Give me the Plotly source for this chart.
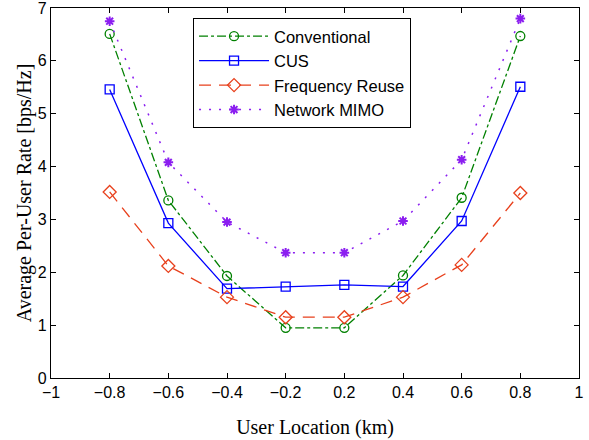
import plotly.graph_objects as go

tick_labels = ["\u22121", "\u22120.8", "\u22120.6", "\u22120.4", "\u22120.2", "0.2", "0.4", "0.6", "0.8", "1"]
locations = ["\u22120.8", "\u22120.6", "\u22120.4", "\u22120.2", "0.2", "0.4", "0.6", "0.8"]
y_ticks = [0, 1, 2, 3, 4, 5, 6, 7]

conventional = [6.51, 3.36, 1.93, 0.95, 0.95, 1.94, 3.41, 6.47]
cus = [5.46, 2.93, 1.69, 1.73, 1.76, 1.73, 2.97, 5.51]
freq_reuse = [3.52, 2.12, 1.53, 1.15, 1.15, 1.53, 2.14, 3.5]
network_mimo = [6.75, 4.08, 2.95, 2.37, 2.37, 2.97, 4.13, 6.8]

# locations are placed on evenly spaced tick positions (0 omitted on the axis)
xpos = [tick_labels.index(l) for l in locations]

fig = go.Figure()
fig.add_trace(go.Scatter(x=xpos, y=conventional, name="Conventional", mode="lines+markers",
                         line=dict(color="#008000", width=1.3, dash="dashdot"),
                         marker=dict(symbol="circle-open", size=9, color="#008000", line=dict(width=1.3))))
fig.add_trace(go.Scatter(x=xpos, y=cus, name="CUS", mode="lines+markers",
                         line=dict(color="#0000FF", width=1.3),
                         marker=dict(symbol="square-open", size=9, color="#0000FF", line=dict(width=1.3))))
fig.add_trace(go.Scatter(x=xpos, y=freq_reuse, name="Frequency Reuse", mode="lines+markers",
                         line=dict(color="#E8401C", width=1.3, dash="12px,8px"),
                         marker=dict(symbol="diamond-open", size=10, color="#E8401C", line=dict(width=1.3))))
fig.add_trace(go.Scatter(x=xpos, y=network_mimo, name="Network MIMO", mode="lines+markers",
                         line=dict(color="#8B1EF0", width=1.5, dash="2px,8px"),
                         marker=dict(symbol="asterisk-open", size=8, color="#8B1EF0", line=dict(width=2, color="#8B1EF0"))))

axis_common = dict(showline=True, linecolor="black", linewidth=1.2, mirror="ticks", ticks="inside",
                   ticklen=5, tickcolor="black", showgrid=False, zeroline=False, automargin=False,
                   ticklabeloverflow="allow",
                   tickfont=dict(family="Liberation Sans, Arial", size=16, color="black"))

title_font = dict(family="Liberation Serif, Times New Roman", size=20, color="black")

fig.update_xaxes(range=[-0.0001, 9.0001], tickvals=list(range(len(tick_labels))), ticktext=tick_labels,
                 title=dict(text="User Location (km)", font=title_font, standoff=19),
                 **axis_common)
fig.update_yaxes(range=[-0.0001, 7.0001], tickvals=y_ticks,
                 title=dict(text="Average Per-User Rate [bps/Hz]", font=title_font, standoff=0),
                 **axis_common)

fig.update_layout(width=589, height=440, plot_bgcolor="white", paper_bgcolor="white",
                  margin=dict(l=51, r=10, t=8, b=62),
                  legend=dict(x=0.269, y=0.973, xanchor="left", yanchor="top",
                              bgcolor="white", bordercolor="black", borderwidth=1,
                              font=dict(family="Liberation Sans, Arial", size=16.5, color="black"),
                              itemwidth=70, tracegroupgap=0, entrywidth=160, entrywidthmode="pixels"),
                  showlegend=True)

fig.write_html("out.html", config={"displayModeBar": False},
               post_script="document.body.style.margin='0';document.body.style.overflow='hidden';")
